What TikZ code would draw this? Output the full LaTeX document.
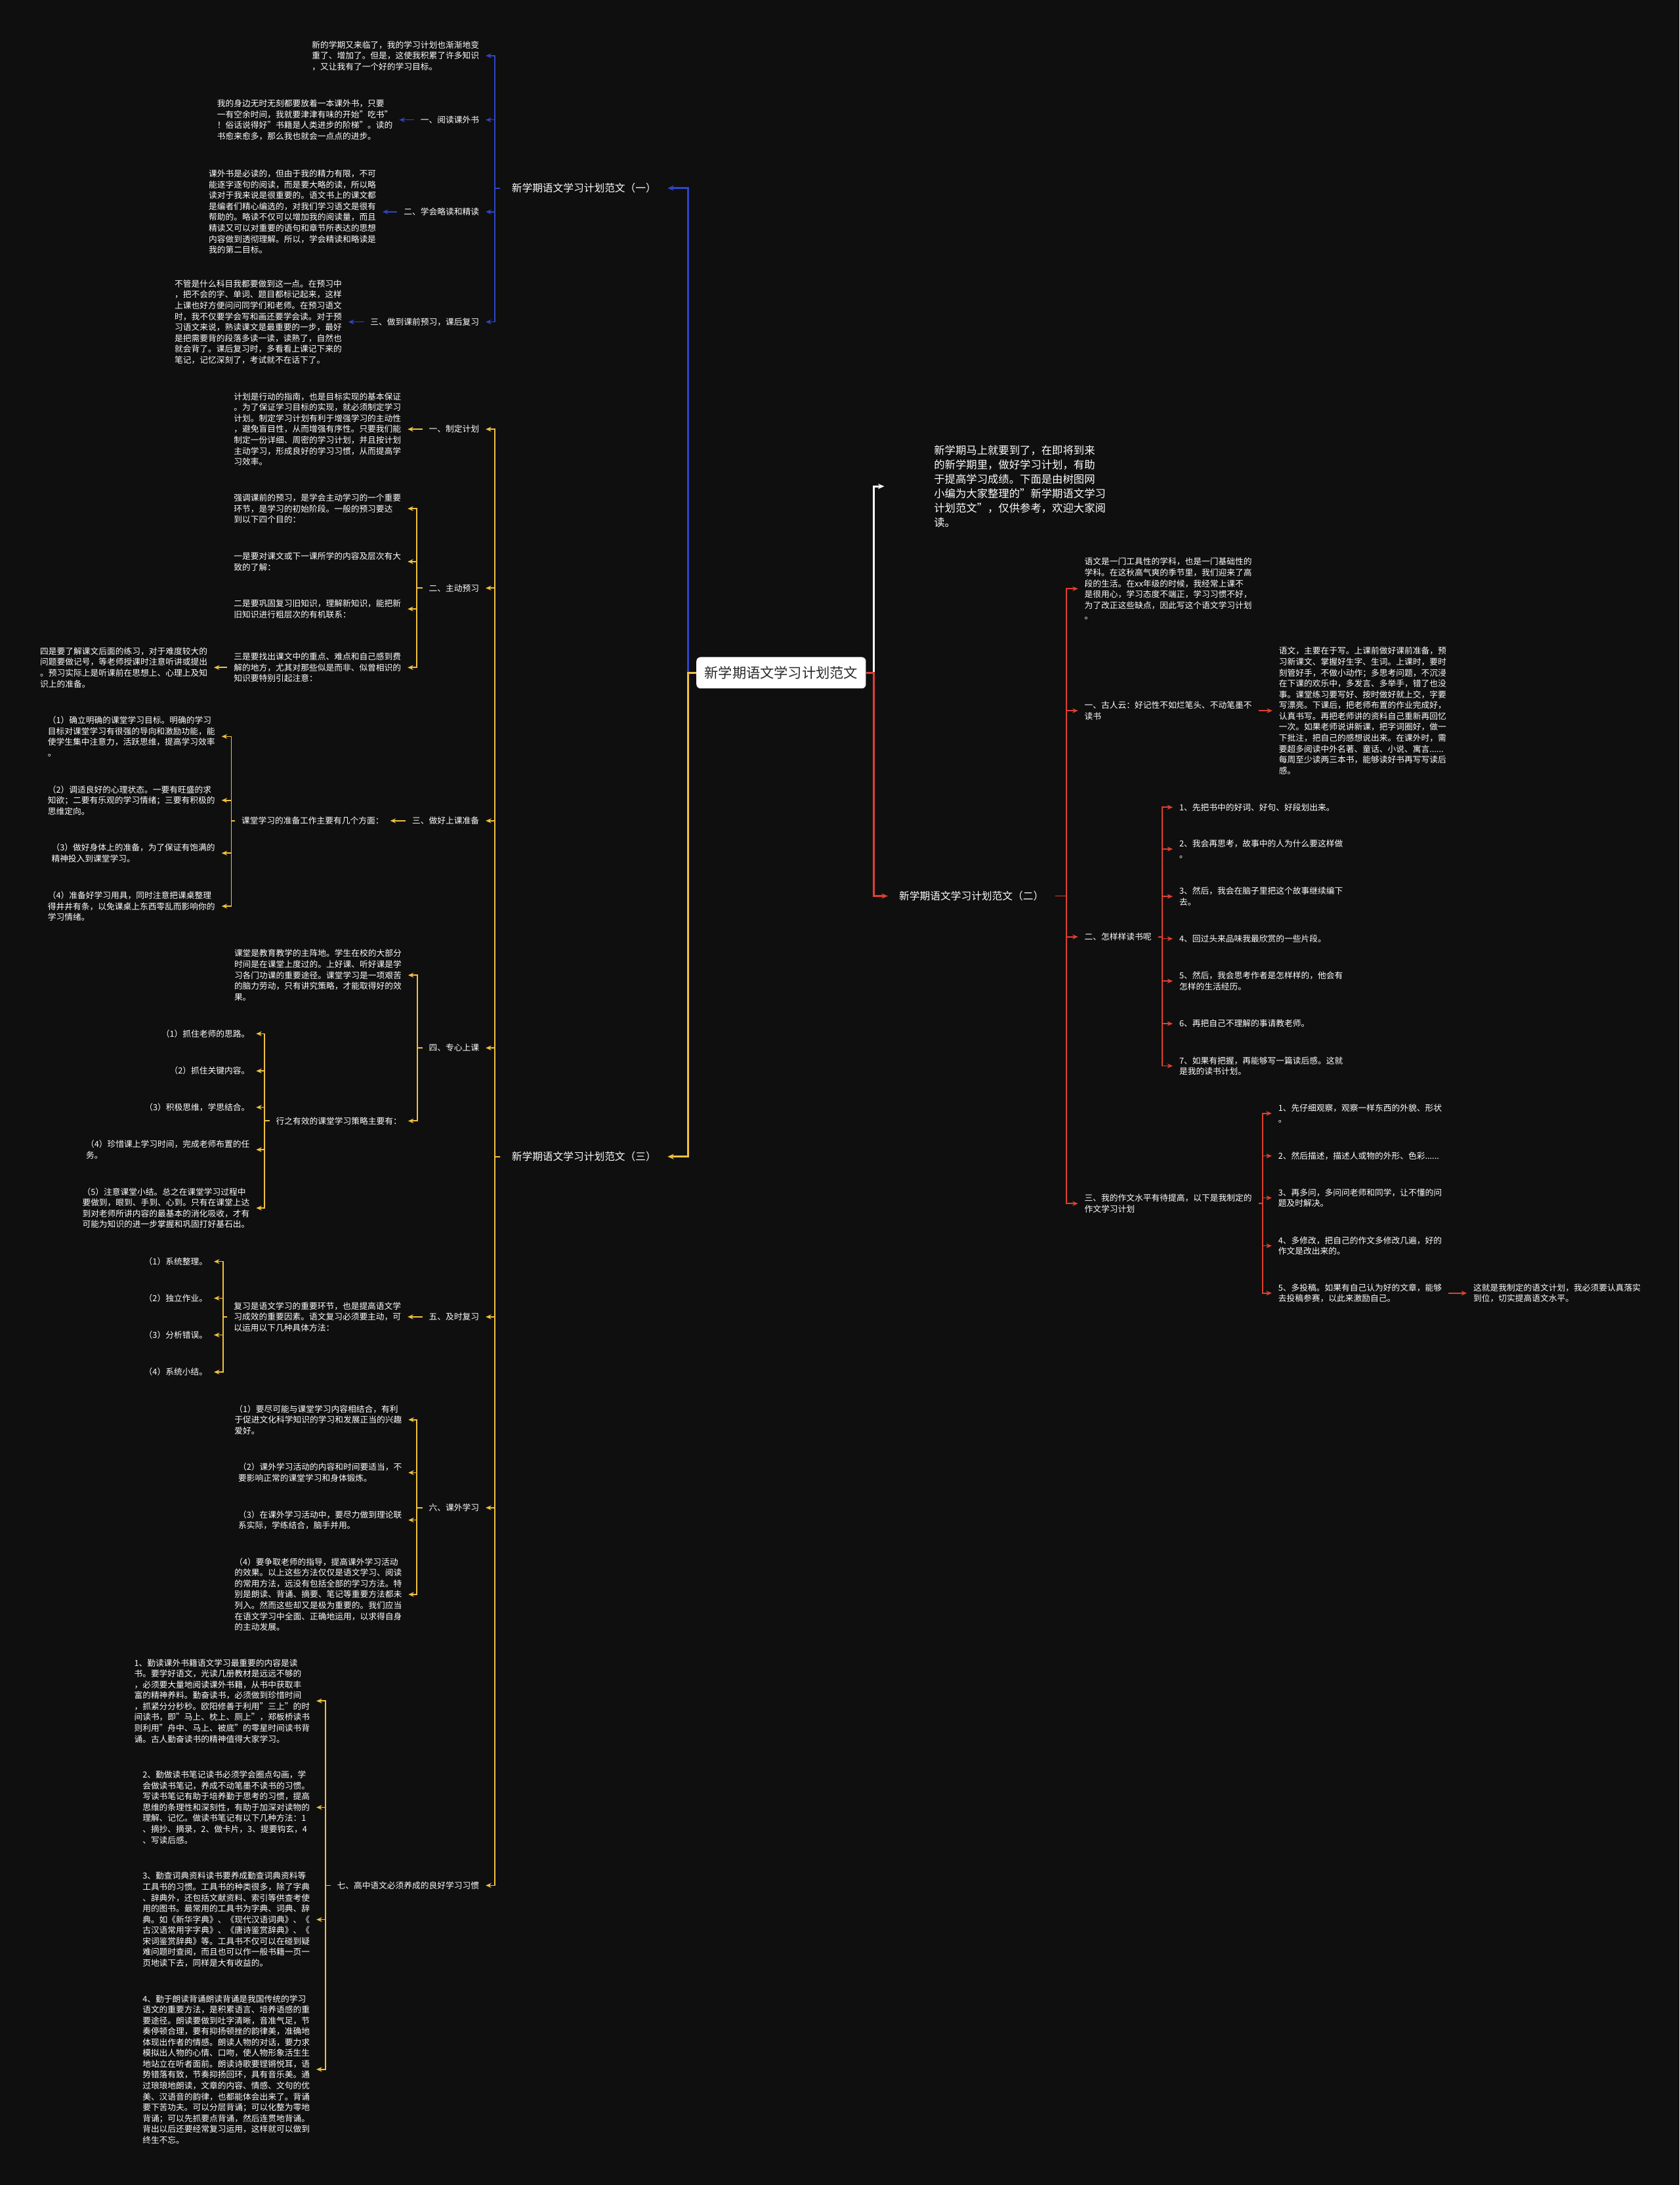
\documentclass[tikz,border=0pt]{standalone}
\usepackage{fontspec}
\setmainfont{Noto Sans CJK SC}
\usetikzlibrary{arrows.meta,calc}
\definecolor{bg}{RGB}{15,15,15}
\definecolor{cblue}{RGB}{48,68,200}
\definecolor{cyel}{RGB}{240,192,64}
\definecolor{cred}{RGB}{224,64,48}
\definecolor{rootfg}{RGB}{40,40,40}
\begin{document}
\begin{tikzpicture}[x=1pt,y=-1pt,
  t/.style={text=white, font=\fontsize{6}{7.8}\selectfont, align=left, inner xsep=4.5, inner ysep=1},
  lab/.style={text=white, font=\fontsize{7.4}{9}\selectfont, inner xsep=8, inner ysep=2},
  intro/.style={text=white, font=\fontsize{7.7}{10.4}\selectfont, align=left, inner xsep=4.5},
  rootbox/.style={fill=white, rounded corners=3, text=rootfg, font=\fontsize{10}{12}\selectfont, inner xsep=5.8, minimum height=22.5},
  lnk/.style={line width=0.8, -{Stealth[length=4,width=3.4]}},
  mainlnk/.style={line width=1.4, -{Stealth[length=4.5,width=3.8]}}]
\fill[bg] (0,0) rectangle (1205,1568);
\useasboundingbox (0,0) rectangle (1205,1568);

% ---------- root ----------
\node[rootbox] (R) at (560.5,482.8) {新学期语文学习计划范文};
\node[lab,anchor=west] (L1) at (359,135) {新学期语文学习计划范文（一）};
\node[lab,anchor=west] (L3) at (359,830) {新学期语文学习计划范文（三）};
\node[lab,anchor=west] (L2) at (637,643) {新学期语文学习计划范文（二）};
\node[intro,anchor=west] (IN) at (665.5,349) {新学期马上就要到了，在即将到来\\的新学期里，做好学习计划，有助\\于提高学习成绩。下面是由树图网\\小编为大家整理的"新学期语文学习\\计划范文"，仅供参考，欢迎大家阅\\读。};
\coordinate (introin) at (634.5,349);
\coordinate (bl) at (493.5,0);
\coordinate (br) at (627,0);

\draw[mainlnk,cblue] (R.west) -- (R.west -| bl) |- (L1.east);
\draw[mainlnk,cyel] (R.west) -- (R.west -| bl) |- (L3.east);
\draw[mainlnk,white] (R.east) -- (R.east -| br) |- (introin);
\draw[mainlnk,cred] (R.east) -- (R.east -| br) |- (L2.west);

% ---------- branch one (blue) ----------
\node[t,anchor=east] (A1) at (348.5,40) {新的学期又来临了，我的学习计划也渐渐地变\\重了、增加了。但是，这使我积累了许多知识\\，又让我有了一个好的学习目标。};
\node[t,anchor=east] (A2) at (348.5,86) {一、阅读课外书};
\node[t,anchor=east] (A2c) at (286.5,86) {我的身边无时无刻都要放着一本课外书，只要\\一有空余时间，我就要津津有味的开始"吃书"\\！俗话说得好"书籍是人类进步的阶梯"。读的\\书愈来愈多，那么我也就会一点点的进步。};
\node[t,anchor=east] (A3) at (348.5,152) {二、学会略读和精读};
\node[t,anchor=east] (A3c) at (274.5,152) {课外书是必读的，但由于我的精力有限，不可\\能逐字逐句的阅读，而是要大略的读，所以略\\读对于我来说是很重要的。语文书上的课文都\\是编者们精心编选的，对我们学习语文是很有\\帮助的。略读不仅可以增加我的阅读量，而且\\精读又可以对重要的语句和章节所表达的思想\\内容做到透彻理解。所以，学会精读和略读是\\我的第二目标。};
\node[t,anchor=east] (A4) at (348.5,231) {三、做到课前预习，课后复习};
\node[t,anchor=east] (A4c) at (250,231) {不管是什么科目我都要做到这一点。在预习中\\，把不会的字、单词、题目都标记起来，这样\\上课也好方便问问同学们和老师。在预习语文\\时，我不仅要学会写和画还要学会读。对于预\\习语文来说，熟读课文是最重要的一步，最好\\是把需要背的段落多读一读，读熟了，自然也\\就会背了。课后复习时，多看看上课记下来的\\笔记，记忆深刻了，考试就不在话下了。};
\coordinate (b1) at (355,0);
\foreach \c in {A1,A2,A3,A4} \draw[lnk,cblue] (L1.west) -- (L1.west -| b1) |- (\c.east);
\draw[lnk,cblue] (A2.west) -- (A2c.east);
\draw[lnk,cblue] (A3.west) -- (A3c.east);
\draw[lnk,cblue] (A4.west) -- (A4c.east);

% ---------- branch three (yellow) ----------
\coordinate (b3) at (355,0);
\node[t,anchor=east] (B1) at (348.5,308) {一、制定计划};
\node[t,anchor=east] (B1c) at (292.5,308) {计划是行动的指南，也是目标实现的基本保证\\。为了保证学习目标的实现，就必须制定学习\\计划。制定学习计划有利于增强学习的主动性\\，避免盲目性，从而增强有序性。只要我们能\\制定一份详细、周密的学习计划，并且按计划\\主动学习，形成良好的学习习惯，从而提高学\\习效率。};
\draw[lnk,cyel] (B1.west) -- (B1c.east);

\node[t,anchor=east] (B2) at (348.5,422) {二、主动预习};
\node[t,anchor=east] (B2a) at (292.5,365) {强调课前的预习，是学会主动学习的一个重要\\环节，是学习的初始阶段。一般的预习要达\\到以下四个目的：};
\node[t,anchor=east] (B2b) at (292.5,403) {一是要对课文或下一课所学的内容及层次有大\\致的了解：};
\node[t,anchor=east] (B2c) at (292.5,437) {二是要巩固复习旧知识，理解新知识，能把新\\旧知识进行粗层次的有机联系：};
\node[t,anchor=east] (B2d) at (292.5,479) {三是要找出课文中的重点、难点和自己感到费\\解的地方，尤其对那些似是而非、似曾相识的\\知识要特别引起注意：};
\node[t,anchor=east] (B2dc) at (153.5,479) {四是要了解课文后面的练习，对于难度较大的\\问题要做记号，等老师授课时注意听讲或提出\\。预习实际上是听课前在思想上、心理上及知\\识上的准备。};
\coordinate (b32) at (299,0);
\foreach \c in {B2a,B2b,B2c,B2d} \draw[lnk,cyel] (B2.west) -- (B2.west -| b32) |- (\c.east);
\draw[lnk,cyel] (B2d.west) -- (B2dc.east);

\node[t,anchor=east] (B3) at (348.5,589) {三、做好上课准备};
\node[t,anchor=east] (B3c) at (280,589) {课堂学习的准备工作主要有几个方面：};
\draw[lnk,cyel] (B3.west) -- (B3c.east);
\node[t,anchor=east] (B3a) at (159,528.5) {（1）确立明确的课堂学习目标。明确的学习\\目标对课堂学习有很强的导向和激励功能，能\\使学生集中注意力，活跃思维，提高学习效率\\。};
\node[t,anchor=east] (B3b) at (159,574.3) {（2）调适良好的心理状态。一要有旺盛的求\\知欲；二要有乐观的学习情绪；三要有积极的\\思维定向。};
\node[t,anchor=east] (B3d) at (159,612.2) {（3）做好身体上的准备，为了保证有饱满的\\精神投入到课堂学习。};
\node[t,anchor=east] (B3e) at (159,650.3) {（4）准备好学习用具，同时注意把课桌整理\\得井井有条，以免课桌上东西零乱而影响你的\\学习情绪。};
\coordinate (b33) at (166,0);
\foreach \c in {B3a,B3b,B3d,B3e} \draw[lnk,cyel] (B3c.west) -- (B3c.west -| b33) |- (\c.east);

\node[t,anchor=east] (B4) at (348.5,752) {四、专心上课};
\node[t,anchor=east] (B4a) at (292.8,699.8) {课堂是教育教学的主阵地。学生在校的大部分\\时间是在课堂上度过的。上好课、听好课是学\\习各门功课的重要途径。课堂学习是一项艰苦\\的脑力劳动，只有讲究策略，才能取得好的效\\果。};
\node[t,anchor=east] (B4b) at (292.8,804.4) {行之有效的课堂学习策略主要有：};
\coordinate (b34) at (299.5,0);
\foreach \c in {B4a,B4b} \draw[lnk,cyel] (B4.west) -- (B4.west -| b34) |- (\c.east);
\node[t,anchor=east] (B4b1) at (183.8,741.8) {（1）抓住老师的思路。};
\node[t,anchor=east] (B4b2) at (183.8,768.5) {（2）抓住关键内容。};
\node[t,anchor=east] (B4b3) at (183.8,794.6) {（3）积极思维，学思结合。};
\node[t,anchor=east] (B4b4) at (183.8,825) {（4）珍惜课上学习时间，完成老师布置的任\\务。};
\node[t,anchor=east] (B4b5) at (183.8,866.9) {（5）注意课堂小结。总之在课堂学习过程中\\要做到，眼到、手到、心到。只有在课堂上达\\到对老师所讲内容的最基本的消化吸收，才有\\可能为知识的进一步掌握和巩固打好基石出。};
\coordinate (b35) at (189.7,0);
\foreach \c in {B4b1,B4b2,B4b3,B4b4,B4b5} \draw[lnk,cyel] (B4b.west) -- (B4b.west -| b35) |- (\c.east);

\node[t,anchor=east] (B5) at (348.5,945) {五、及时复习};
\node[t,anchor=east] (B5c) at (292.5,945) {复习是语文学习的重要环节，也是提高语文学\\习成效的重要因素。语文复习必须要主动，可\\以运用以下几种具体方法：};
\draw[lnk,cyel] (B5.west) -- (B5c.east);
\node[t,anchor=east] (B5a) at (153.5,905.3) {（1）系统整理。};
\node[t,anchor=east] (B5b) at (153.5,931.6) {（2）独立作业。};
\node[t,anchor=east] (B5d) at (153.5,958) {（3）分析错误。};
\node[t,anchor=east] (B5e) at (153.5,984.6) {（4）系统小结。};
\coordinate (b36) at (160,0);
\foreach \c in {B5a,B5b,B5d,B5e} \draw[lnk,cyel] (B5c.west) -- (B5c.west -| b36) |- (\c.east);

\node[t,anchor=east] (B6) at (348.5,1082) {六、课外学习};
\node[t,anchor=east] (B6a) at (293,1018.8) {（1）要尽可能与课堂学习内容相结合，有利\\于促进文化科学知识的学习和发展正当的兴趣\\爱好。};
\node[t,anchor=east] (B6b) at (293,1056.8) {（2）课外学习活动的内容和时间要适当，不\\要影响正常的课堂学习和身体锻炼。};
\node[t,anchor=east] (B6c) at (293,1090.8) {（3）在课外学习活动中，要尽力做到理论联\\系实际，学练结合，脑手并用。};
\node[t,anchor=east] (B6d) at (293,1144.2) {（4）要争取老师的指导，提高课外学习活动\\的效果。以上这些方法仅仅是语文学习、阅读\\的常用方法，远没有包括全部的学习方法。特\\别是朗读、背诵、摘要、笔记等重要方法都未\\列入。然而这些却又是极为重要的。我们应当\\在语文学习中全面、正确地运用，以求得自身\\的主动发展。};
\coordinate (b37) at (299,0);
\foreach \c in {B6a,B6b,B6c,B6d} \draw[lnk,cyel] (B6.west) -- (B6.west -| b37) |- (\c.east);

\node[t,anchor=east] (B7) at (348.5,1353) {七、高中语文必须养成的良好学习习惯};
\node[t,anchor=east] (B7a) at (227,1220.6) {1、勤读课外书籍语文学习最重要的内容是读\\书。要学好语文，光读几册教材是远远不够的\\，必须要大量地阅读课外书籍，从书中获取丰\\富的精神养料。勤奋读书，必须做到珍惜时间\\，抓紧分分秒秒。欧阳修善于利用"三上"的时\\间读书，即"马上、枕上、厕上"，郑板桥读书\\则利用"舟中、马上、被底"的零星时间读书背\\诵。古人勤奋读书的精神值得大家学习。};
\node[t,anchor=east] (B7b) at (227,1297) {2、勤做读书笔记读书必须学会圈点勾画，学\\会做读书笔记，养成不动笔墨不读书的习惯。\\写读书笔记有助于培养勤于思考的习惯，提高\\思维的条理性和深刻性，有助于加深对读物的\\理解、记忆。做读书笔记有以下几种方法：1\\、摘抄、摘录，2、做卡片，3、提要钩玄，4\\、写读后感。};
\node[t,anchor=east] (B7c) at (227,1377.5) {3、勤查词典资料读书要养成勤查词典资料等\\工具书的习惯。工具书的种类很多，除了字典\\、辞典外，还包括文献资料、索引等供查考使\\用的图书。最常用的工具书为字典、词典、辞\\典。如《新华字典》、《现代汉语词典》、《\\古汉语常用字字典》、《唐诗鉴赏辞典》、《\\宋词鉴赏辞典》等。工具书不仅可以在碰到疑\\难问题时查阅，而且也可以作一般书籍一页一\\页地读下去，同样是大有收益的。};
\node[t,anchor=east] (B7d) at (227,1485) {4、勤于朗读背诵朗读背诵是我国传统的学习\\语文的重要方法，是积累语言、培养语感的重\\要途径。朗读要做到吐字清晰，音准气足，节\\奏停顿合理，要有抑扬顿挫的韵律美，准确地\\体现出作者的情感。朗读人物的对话，要力求\\模拟出人物的心情、口吻，使人物形象活生生\\地站立在听者面前。朗读诗歌要铿锵悦耳，语\\势错落有致，节奏抑扬回环，具有音乐美。通\\过琅琅地朗读，文章的内容、情感、文句的优\\美、汉语音的韵律，也都能体会出来了。背诵\\要下苦功夫。可以分层背诵；可以化整为零地\\背诵；可以先抓要点背诵，然后连贯地背诵。\\背出以后还要经常复习运用，这样就可以做到\\终生不忘。};
\coordinate (b38) at (233.5,0);
\foreach \c in {B7a,B7b,B7c,B7d} \draw[lnk,cyel] (B7.west) -- (B7.west -| b38) |- (\c.east);

\foreach \c in {B1,B2,B3,B4,B5,B6,B7} \draw[lnk,cyel] (L3.west) -- (L3.west -| b3) |- (\c.east);

% ---------- branch two (red) ----------
\node[t,anchor=west] (C1) at (773.5,422.5) {语文是一门工具性的学科，也是一门基础性的\\学科。在这秋高气爽的季节里，我们迎来了高\\段的生活。在xx年级的时候，我经常上课不\\是很用心，学习态度不端正，学习习惯不好，\\为了改正这些缺点，因此写这个语文学习计划\\。};
\node[t,anchor=west] (C2) at (773.5,510) {一、古人云：好记性不如烂笔头、不动笔墨不\\读书};
\node[t,anchor=west] (C2c) at (913,510) {语文，主要在于写。上课前做好课前准备，预\\习新课文、掌握好生字、生词。上课时，要时\\刻管好手，不做小动作；多思考问题，不沉浸\\在下课的欢乐中，多发言、多举手，错了也没\\事。课堂练习要写好、按时做好就上交，字要\\写漂亮。下课后，把老师布置的作业完成好，\\认真书写。再把老师讲的资料自己重新再回忆\\一次。如果老师说讲新课，把字词圈好，做一\\下批注，把自己的感想说出来。在课外时，需\\要超多阅读中外名著、童话、小说、寓言......\\每周至少读两三本书，能够读好书再写写读后\\感。};
\draw[lnk,cred] (C2.east) -- (C2c.west);
\node[t,anchor=west] (C3) at (773.5,672.3) {二、怎样样读书呢};
\node[t,anchor=west] (C31) at (841.5,579.3) {1、先把书中的好词、好句、好段划出来。};
\node[t,anchor=west] (C32) at (841.5,609.3) {2、我会再思考，故事中的人为什么要这样做\\。};
\node[t,anchor=west] (C33) at (841.5,643.3) {3、然后，我会在脑子里把这个故事继续编下\\去。};
\node[t,anchor=west] (C34) at (841.5,673.6) {4、回过头来品味我最欣赏的一些片段。};
\node[t,anchor=west] (C35) at (841.5,704) {5、然后，我会思考作者是怎样样的，他会有\\怎样的生活经历。};
\node[t,anchor=west] (C36) at (841.5,734.6) {6、再把自己不理解的事请教老师。};
\node[t,anchor=west] (C37) at (841.5,764.9) {7、如果有把握，再能够写一篇读后感。这就\\是我的读书计划。};
\coordinate (b22) at (834,0);
\foreach \c in {C31,C32,C33,C34,C35,C36,C37} \draw[lnk,cred] (C3.east) -- (C3.east -| b22) |- (\c.west);
\node[t,anchor=west] (C4) at (773.5,863.7) {三、我的作文水平有待提高，以下是我制定的\\作文学习计划};
\node[t,anchor=west] (C41) at (912.5,799) {1、先仔细观察，观察一样东西的外貌、形状\\。};
\node[t,anchor=west] (C42) at (912.5,829.5) {2、然后描述，描述人或物的外形、色彩......};
\node[t,anchor=west] (C43) at (912.5,859.6) {3、再多问，多问问老师和同学，让不懂的问\\题及时解决。};
\node[t,anchor=west] (C44) at (912.5,894) {4、多修改，把自己的作文多修改几遍，好的\\作文是改出来的。};
\node[t,anchor=west] (C45) at (912.5,928) {5、多投稿。如果有自己认为好的文章，能够\\去投稿参赛，以此来激励自己。};
\node[t,anchor=west] (C45c) at (1052.5,928) {这就是我制定的语文计划，我必须要认真落实\\到位，切实提高语文水平。};
\coordinate (b23) at (906,0);
\foreach \c in {C41,C42,C43,C44,C45} \draw[lnk,cred] (C4.east) -- (C4.east -| b23) |- (\c.west);
\draw[lnk,cred] (C45.east) -- (C45c.west);
\coordinate (b2) at (765,0);
\foreach \c in {C1,C2,C3,C4} \draw[lnk,cred] (L2.east) -- (L2.east -| b2) |- (\c.west);
\end{tikzpicture}
\end{document}
